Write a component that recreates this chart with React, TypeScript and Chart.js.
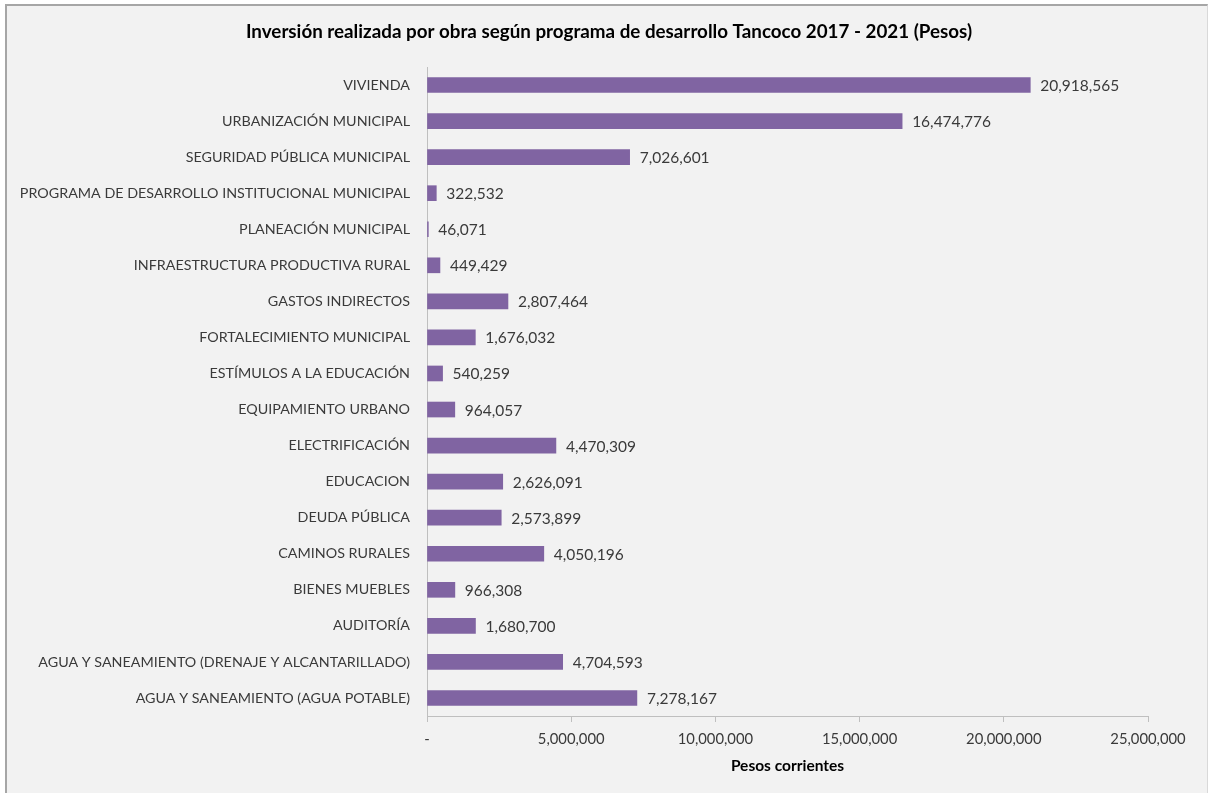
import React, { useEffect, useRef } from "react";
import { Chart, registerables } from "chart.js";

Chart.register(...registerables);

const title = "Inversión realizada por obra según programa de desarrollo Tancoco 2017 - 2021 (Pesos)";
const axisTitle = "Pesos corrientes";

const categories = [
  "VIVIENDA",
  "URBANIZACIÓN MUNICIPAL",
  "SEGURIDAD PÚBLICA MUNICIPAL",
  "PROGRAMA DE DESARROLLO INSTITUCIONAL MUNICIPAL",
  "PLANEACIÓN MUNICIPAL",
  "INFRAESTRUCTURA PRODUCTIVA RURAL",
  "GASTOS INDIRECTOS",
  "FORTALECIMIENTO MUNICIPAL",
  "ESTÍMULOS A LA EDUCACIÓN",
  "EQUIPAMIENTO URBANO",
  "ELECTRIFICACIÓN",
  "EDUCACION",
  "DEUDA PÚBLICA",
  "CAMINOS RURALES",
  "BIENES MUEBLES",
  "AUDITORÍA",
  "AGUA Y SANEAMIENTO (DRENAJE Y ALCANTARILLADO)",
  "AGUA Y SANEAMIENTO (AGUA POTABLE)",
];

const values = [
  20918565, 16474776, 7026601, 322532, 46071, 449429, 2807464, 1676032, 540259,
  964057, 4470309, 2626091, 2573899, 4050196, 966308, 1680700, 4704593, 7278167,
];

const xMin = 0;
const xMax = 25000000;
const xStep = 5000000;

const FONT = "Lato";
const TEXT = "#3a3a3a";
const BAR = "#8064A2";
const AXIS = "#bfbfbf";

const fmt = (v: number) => v.toLocaleString("en-US");

export default function App() {
  const ref = useRef<HTMLCanvasElement>(null);

  useEffect(() => {
    if (!ref.current) return;
    const textPlugin = {
      id: "texts",
      afterDatasetsDraw(chart: any) {
        const ctx = chart.ctx;
        const meta = chart.getDatasetMeta(0);
        ctx.save();
        ctx.fillStyle = TEXT;
        ctx.font = `15.5px ${FONT}`;
        ctx.textAlign = "left";
        ctx.textBaseline = "middle";
        meta.data.forEach((bar: any, i: number) => {
          ctx.fillText(fmt(values[i]), bar.x + 10, bar.y + 1);
        });
        const ca = chart.chartArea;
        ctx.fillStyle = "#000000";
        ctx.font = `bold 18.8px ${FONT}`;
        ctx.textAlign = "center";
        ctx.fillText(title, 609, 32);
        ctx.font = `bold 15.5px ${FONT}`;
        ctx.fillText(axisTitle, (ca.left + ca.right) / 2, 766);
        ctx.restore();
      },
    };

    const chart = new Chart(ref.current, {
      type: "bar",
      data: {
        labels: categories,
        datasets: [
          {
            data: values,
            backgroundColor: BAR,
            borderWidth: 0,
            barThickness: 15,
          },
        ],
      },
      options: {
        indexAxis: "y",
        responsive: false,
        animation: false,
        layout: { padding: { top: 67, right: 61, left: 0, bottom: 0 } },
        plugins: {
          legend: { display: false },
          title: { display: false },
          tooltip: { enabled: false },
        },
        scales: {
          x: {
            type: "linear",
            min: xMin,
            max: xMax,
            afterFit(scale: any) {
              scale.height = 77;
            },
            ticks: {
              stepSize: xStep,
              color: TEXT,
              font: { family: FONT, size: 14.8 },
              padding: 8,
              callback: (v: any) => (Number(v) === 0 ? "-" : fmt(Number(v))),
            },
            grid: {
              display: true,
              drawOnChartArea: false,
              drawTicks: true,
              tickLength: 6,
              color: AXIS,
            },
            border: { display: true, color: AXIS },
          },
          y: {
            afterFit(scale: any) {
              scale.width = 427;
            },
            ticks: {
              color: TEXT,
              font: { family: FONT, size: 14.3 },
              padding: 17,
              autoSkip: false,
            },
            grid: { display: true, drawOnChartArea: false, drawTicks: false },
            border: { display: true, color: AXIS },
          },
        },
      },
      plugins: [textPlugin],
    } as any);
    return () => chart.destroy();
  }, []);

  return (
    <div style={{ position: "fixed", left: 0, top: 0, width: 1209, height: 793, background: "#ffffff", overflow: "hidden" }}>
      <div
        style={{
          position: "absolute",
          left: 5,
          top: 4,
          width: 1200,
          height: 800,
          background: "#f2f2f2",
          borderLeft: "2px solid #a6a6a6",
          borderTop: "2px solid #a6a6a6",
          borderRight: "1px solid #d9d9d9",
        }}
      />
      <canvas ref={ref} width={1209} height={793} style={{ position: "absolute", left: 0, top: 0 }} />
    </div>
  );
}
